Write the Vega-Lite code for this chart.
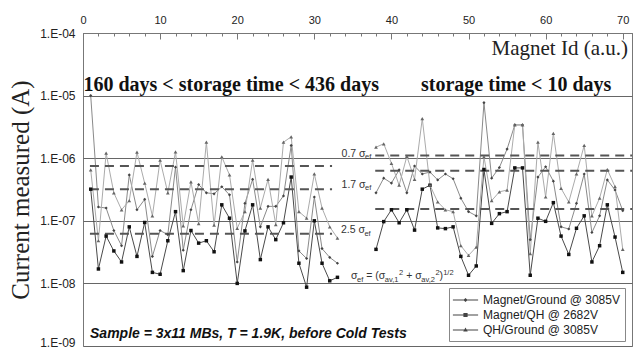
{
  "$schema": "https://vega.github.io/schema/vega-lite/v6.json",
  "width": 549,
  "height": 313,
  "autosize": {"type": "none"},
  "padding": {"left": 83, "top": 33, "right": 2, "bottom": 4},
  "background": "white",
  "config": {"view": {"stroke": "#777", "strokeWidth": 1}, "font": "Liberation Sans"},
  "resolve": {"scale": {"shape": "independent"}, "axis": {"x": "independent"}},
  "datasets": {
    "pts": [
      {"m":1,"s":"Magnet/Ground @ 3085V","g":1,"v":1e-5},{"m":2,"s":"Magnet/Ground @ 3085V","g":1,"v":1.66e-7},{"m":3,"s":"Magnet/Ground @ 3085V","g":1,"v":1.6e-7},{"m":4,"s":"Magnet/Ground @ 3085V","g":1,"v":7e-8},{"m":5,"s":"Magnet/Ground @ 3085V","g":1,"v":4e-8},{"m":6,"s":"Magnet/Ground @ 3085V","g":1,"v":5.4e-7},{"m":7,"s":"Magnet/Ground @ 3085V","g":1,"v":1.5e-7},{"m":8,"s":"Magnet/Ground @ 3085V","g":1,"v":2.2e-7},{"m":9,"s":"Magnet/Ground @ 3085V","g":1,"v":2.7e-8},{"m":10,"s":"Magnet/Ground @ 3085V","g":1,"v":7e-8},{"m":11,"s":"Magnet/Ground @ 3085V","g":1,"v":6e-8},{"m":12,"s":"Magnet/Ground @ 3085V","g":1,"v":7.2e-7},{"m":13,"s":"Magnet/Ground @ 3085V","g":1,"v":3.4e-8},{"m":14,"s":"Magnet/Ground @ 3085V","g":1,"v":1.5e-7},{"m":15,"s":"Magnet/Ground @ 3085V","g":1,"v":3.8e-7},{"m":16,"s":"Magnet/Ground @ 3085V","g":1,"v":2.8e-7},{"m":17,"s":"Magnet/Ground @ 3085V","g":1,"v":2.7e-7},{"m":18,"s":"Magnet/Ground @ 3085V","g":1,"v":3.5e-7},{"m":19,"s":"Magnet/Ground @ 3085V","g":1,"v":2.6e-7},{"m":20,"s":"Magnet/Ground @ 3085V","g":1,"v":2.2e-8},{"m":21,"s":"Magnet/Ground @ 3085V","g":1,"v":1.9e-7},{"m":22,"s":"Magnet/Ground @ 3085V","g":1,"v":4.6e-7},{"m":23,"s":"Magnet/Ground @ 3085V","g":1,"v":8e-8},{"m":24,"s":"Magnet/Ground @ 3085V","g":1,"v":1.7e-7},{"m":25,"s":"Magnet/Ground @ 3085V","g":1,"v":1.7e-7},{"m":26,"s":"Magnet/Ground @ 3085V","g":1,"v":2.5e-7},{"m":27,"s":"Magnet/Ground @ 3085V","g":1,"v":1.6e-6},{"m":28,"s":"Magnet/Ground @ 3085V","g":1,"v":3.3e-8},{"m":29,"s":"Magnet/Ground @ 3085V","g":1,"v":2.5e-8},{"m":30,"s":"Magnet/Ground @ 3085V","g":1,"v":2.4e-7},{"m":31,"s":"Magnet/Ground @ 3085V","g":1,"v":3.6e-8},{"m":32,"s":"Magnet/Ground @ 3085V","g":1,"v":2.6e-8},{"m":33,"s":"Magnet/Ground @ 3085V","g":1,"v":2.1e-8},
      {"m":38,"s":"Magnet/Ground @ 3085V","g":2,"v":2.8e-7},{"m":39,"s":"Magnet/Ground @ 3085V","g":2,"v":4.8e-7},{"m":40,"s":"Magnet/Ground @ 3085V","g":2,"v":4e-7},{"m":41,"s":"Magnet/Ground @ 3085V","g":2,"v":6.5e-7},{"m":42,"s":"Magnet/Ground @ 3085V","g":2,"v":2.8e-7},{"m":43,"s":"Magnet/Ground @ 3085V","g":2,"v":7.5e-7},{"m":44,"s":"Magnet/Ground @ 3085V","g":2,"v":5.6e-7},{"m":45,"s":"Magnet/Ground @ 3085V","g":2,"v":6e-7},{"m":46,"s":"Magnet/Ground @ 3085V","g":2,"v":4.5e-7},{"m":47,"s":"Magnet/Ground @ 3085V","g":2,"v":5.6e-7},{"m":48,"s":"Magnet/Ground @ 3085V","g":2,"v":4.7e-7},{"m":49,"s":"Magnet/Ground @ 3085V","g":2,"v":2.3e-7},{"m":50,"s":"Magnet/Ground @ 3085V","g":2,"v":1.4e-7},{"m":51,"s":"Magnet/Ground @ 3085V","g":2,"v":1.2e-7},{"m":52,"s":"Magnet/Ground @ 3085V","g":2,"v":7.7e-6},{"m":53,"s":"Magnet/Ground @ 3085V","g":2,"v":4.8e-7},{"m":54,"s":"Magnet/Ground @ 3085V","g":2,"v":7.1e-7},{"m":55,"s":"Magnet/Ground @ 3085V","g":2,"v":1.4e-6},{"m":56,"s":"Magnet/Ground @ 3085V","g":2,"v":3.4e-6},{"m":57,"s":"Magnet/Ground @ 3085V","g":2,"v":3.4e-6},{"m":58,"s":"Magnet/Ground @ 3085V","g":2,"v":5e-8},{"m":59,"s":"Magnet/Ground @ 3085V","g":2,"v":5e-7},{"m":60,"s":"Magnet/Ground @ 3085V","g":2,"v":7.3e-7},{"m":61,"s":"Magnet/Ground @ 3085V","g":2,"v":4.3e-7},{"m":62,"s":"Magnet/Ground @ 3085V","g":2,"v":8e-8},{"m":63,"s":"Magnet/Ground @ 3085V","g":2,"v":7.4e-8},{"m":64,"s":"Magnet/Ground @ 3085V","g":2,"v":1.9e-7},{"m":65,"s":"Magnet/Ground @ 3085V","g":2,"v":5.6e-7},{"m":66,"s":"Magnet/Ground @ 3085V","g":2,"v":6.5e-8},{"m":67,"s":"Magnet/Ground @ 3085V","g":2,"v":1.2e-7},{"m":68,"s":"Magnet/Ground @ 3085V","g":2,"v":4.5e-7},{"m":69,"s":"Magnet/Ground @ 3085V","g":2,"v":3.1e-7},{"m":70,"s":"Magnet/Ground @ 3085V","g":2,"v":1.45e-7},
      {"m":1,"s":"Magnet/QH @ 2682V","g":1,"v":3.2e-7},{"m":2,"s":"Magnet/QH @ 2682V","g":1,"v":1.7e-8},{"m":3,"s":"Magnet/QH @ 2682V","g":1,"v":5.7e-8},{"m":4,"s":"Magnet/QH @ 2682V","g":1,"v":3.3e-8},{"m":5,"s":"Magnet/QH @ 2682V","g":1,"v":2.2e-8},{"m":6,"s":"Magnet/QH @ 2682V","g":1,"v":8e-8},{"m":7,"s":"Magnet/QH @ 2682V","g":1,"v":2.7e-8},{"m":8,"s":"Magnet/QH @ 2682V","g":1,"v":9.4e-8},{"m":9,"s":"Magnet/QH @ 2682V","g":1,"v":1.5e-8},{"m":10,"s":"Magnet/QH @ 2682V","g":1,"v":1.4e-8},{"m":11,"s":"Magnet/QH @ 2682V","g":1,"v":4.8e-8},{"m":12,"s":"Magnet/QH @ 2682V","g":1,"v":1.4e-7},{"m":13,"s":"Magnet/QH @ 2682V","g":1,"v":1.6e-8},{"m":14,"s":"Magnet/QH @ 2682V","g":1,"v":7e-8},{"m":15,"s":"Magnet/QH @ 2682V","g":1,"v":4.4e-8},{"m":16,"s":"Magnet/QH @ 2682V","g":1,"v":4.8e-8},{"m":17,"s":"Magnet/QH @ 2682V","g":1,"v":3.2e-8},{"m":18,"s":"Magnet/QH @ 2682V","g":1,"v":1.8e-7},{"m":19,"s":"Magnet/QH @ 2682V","g":1,"v":1.1e-7},{"m":20,"s":"Magnet/QH @ 2682V","g":1,"v":1e-8},{"m":21,"s":"Magnet/QH @ 2682V","g":1,"v":6.9e-8},{"m":22,"s":"Magnet/QH @ 2682V","g":1,"v":1.8e-7},{"m":23,"s":"Magnet/QH @ 2682V","g":1,"v":2.4e-8},{"m":24,"s":"Magnet/QH @ 2682V","g":1,"v":8e-8},{"m":25,"s":"Magnet/QH @ 2682V","g":1,"v":5e-8},{"m":26,"s":"Magnet/QH @ 2682V","g":1,"v":9.3e-8},{"m":27,"s":"Magnet/QH @ 2682V","g":1,"v":5e-7},{"m":28,"s":"Magnet/QH @ 2682V","g":1,"v":2.1e-8},{"m":29,"s":"Magnet/QH @ 2682V","g":1,"v":8.7e-9},{"m":30,"s":"Magnet/QH @ 2682V","g":1,"v":1e-7},{"m":31,"s":"Magnet/QH @ 2682V","g":1,"v":2.1e-8},{"m":32,"s":"Magnet/QH @ 2682V","g":1,"v":1.1e-8},{"m":33,"s":"Magnet/QH @ 2682V","g":1,"v":1.25e-8},
      {"m":38,"s":"Magnet/QH @ 2682V","g":2,"v":3.5e-8},{"m":39,"s":"Magnet/QH @ 2682V","g":2,"v":9.7e-8},{"m":40,"s":"Magnet/QH @ 2682V","g":2,"v":1.5e-7},{"m":41,"s":"Magnet/QH @ 2682V","g":2,"v":9.3e-8},{"m":42,"s":"Magnet/QH @ 2682V","g":2,"v":1.5e-7},{"m":43,"s":"Magnet/QH @ 2682V","g":2,"v":7.1e-8},{"m":44,"s":"Magnet/QH @ 2682V","g":2,"v":3.2e-7},{"m":45,"s":"Magnet/QH @ 2682V","g":2,"v":3.7e-7},{"m":46,"s":"Magnet/QH @ 2682V","g":2,"v":7.7e-8},{"m":47,"s":"Magnet/QH @ 2682V","g":2,"v":7.5e-8},{"m":48,"s":"Magnet/QH @ 2682V","g":2,"v":8e-8},{"m":49,"s":"Magnet/QH @ 2682V","g":2,"v":2.7e-8},{"m":50,"s":"Magnet/QH @ 2682V","g":2,"v":1.35e-8},{"m":51,"s":"Magnet/QH @ 2682V","g":2,"v":1.9e-8},{"m":52,"s":"Magnet/QH @ 2682V","g":2,"v":6.6e-7},{"m":53,"s":"Magnet/QH @ 2682V","g":2,"v":9.1e-8},{"m":54,"s":"Magnet/QH @ 2682V","g":2,"v":1.3e-7},{"m":55,"s":"Magnet/QH @ 2682V","g":2,"v":1.4e-7},{"m":56,"s":"Magnet/QH @ 2682V","g":2,"v":7e-7},{"m":57,"s":"Magnet/QH @ 2682V","g":2,"v":7e-7},{"m":58,"s":"Magnet/QH @ 2682V","g":2,"v":1.35e-8},{"m":59,"s":"Magnet/QH @ 2682V","g":2,"v":1.1e-7},{"m":60,"s":"Magnet/QH @ 2682V","g":2,"v":9.8e-8},{"m":61,"s":"Magnet/QH @ 2682V","g":2,"v":1.95e-7},{"m":62,"s":"Magnet/QH @ 2682V","g":2,"v":5.7e-8},{"m":63,"s":"Magnet/QH @ 2682V","g":2,"v":2.9e-8},{"m":64,"s":"Magnet/QH @ 2682V","g":2,"v":7.6e-8},{"m":65,"s":"Magnet/QH @ 2682V","g":2,"v":1.2e-7},{"m":66,"s":"Magnet/QH @ 2682V","g":2,"v":2.2e-8},{"m":67,"s":"Magnet/QH @ 2682V","g":2,"v":4e-8},{"m":68,"s":"Magnet/QH @ 2682V","g":2,"v":1.8e-7},{"m":69,"s":"Magnet/QH @ 2682V","g":2,"v":5.5e-8},{"m":70,"s":"Magnet/QH @ 2682V","g":2,"v":1.5e-8},
      {"m":1,"s":"QH/Ground @ 3085V","g":1,"v":6.5e-7},{"m":2,"s":"QH/Ground @ 3085V","g":1,"v":4.8e-8},{"m":3,"s":"QH/Ground @ 3085V","g":1,"v":1.2e-6},{"m":4,"s":"QH/Ground @ 3085V","g":1,"v":2.8e-7},{"m":5,"s":"QH/Ground @ 3085V","g":1,"v":1.5e-7},{"m":6,"s":"QH/Ground @ 3085V","g":1,"v":2.1e-7},{"m":7,"s":"QH/Ground @ 3085V","g":1,"v":1.25e-6},{"m":8,"s":"QH/Ground @ 3085V","g":1,"v":4e-7},{"m":9,"s":"QH/Ground @ 3085V","g":1,"v":1.2e-7},{"m":10,"s":"QH/Ground @ 3085V","g":1,"v":9.3e-7},{"m":11,"s":"QH/Ground @ 3085V","g":1,"v":2.8e-7},{"m":12,"s":"QH/Ground @ 3085V","g":1,"v":1.26e-6},{"m":13,"s":"QH/Ground @ 3085V","g":1,"v":8.3e-8},{"m":14,"s":"QH/Ground @ 3085V","g":1,"v":4.2e-7},{"m":15,"s":"QH/Ground @ 3085V","g":1,"v":9e-8},{"m":16,"s":"QH/Ground @ 3085V","g":1,"v":1.8e-6},{"m":17,"s":"QH/Ground @ 3085V","g":1,"v":8.5e-8},{"m":18,"s":"QH/Ground @ 3085V","g":1,"v":1.05e-6},{"m":19,"s":"QH/Ground @ 3085V","g":1,"v":5.4e-7},{"m":20,"s":"QH/Ground @ 3085V","g":1,"v":7.6e-8},{"m":21,"s":"QH/Ground @ 3085V","g":1,"v":1.4e-7},{"m":22,"s":"QH/Ground @ 3085V","g":1,"v":9.3e-7},{"m":23,"s":"QH/Ground @ 3085V","g":1,"v":1.6e-7},{"m":24,"s":"QH/Ground @ 3085V","g":1,"v":4.6e-7},{"m":25,"s":"QH/Ground @ 3085V","g":1,"v":8.7e-8},{"m":26,"s":"QH/Ground @ 3085V","g":1,"v":1.8e-6},{"m":27,"s":"QH/Ground @ 3085V","g":1,"v":2.2e-6},{"m":28,"s":"QH/Ground @ 3085V","g":1,"v":1.4e-7},{"m":29,"s":"QH/Ground @ 3085V","g":1,"v":1.1e-7},{"m":30,"s":"QH/Ground @ 3085V","g":1,"v":5.6e-7},{"m":31,"s":"QH/Ground @ 3085V","g":1,"v":1.6e-7},{"m":32,"s":"QH/Ground @ 3085V","g":1,"v":8e-8},{"m":33,"s":"QH/Ground @ 3085V","g":1,"v":5.3e-8},
      {"m":38,"s":"QH/Ground @ 3085V","g":2,"v":1.5e-6},{"m":39,"s":"QH/Ground @ 3085V","g":2,"v":1.7e-6},{"m":40,"s":"QH/Ground @ 3085V","g":2,"v":8.3e-7},{"m":41,"s":"QH/Ground @ 3085V","g":2,"v":3.7e-7},{"m":42,"s":"QH/Ground @ 3085V","g":2,"v":1.07e-6},{"m":43,"s":"QH/Ground @ 3085V","g":2,"v":4.6e-7},{"m":44,"s":"QH/Ground @ 3085V","g":2,"v":4.3e-6},{"m":45,"s":"QH/Ground @ 3085V","g":2,"v":3.7e-7},{"m":46,"s":"QH/Ground @ 3085V","g":2,"v":2e-7},{"m":47,"s":"QH/Ground @ 3085V","g":2,"v":1.5e-7},{"m":48,"s":"QH/Ground @ 3085V","g":2,"v":1.4e-7},{"m":49,"s":"QH/Ground @ 3085V","g":2,"v":4e-8},{"m":50,"s":"QH/Ground @ 3085V","g":2,"v":2.8e-8},{"m":51,"s":"QH/Ground @ 3085V","g":2,"v":3.8e-8},{"m":52,"s":"QH/Ground @ 3085V","g":2,"v":1.05e-6},{"m":53,"s":"QH/Ground @ 3085V","g":2,"v":2.1e-7},{"m":54,"s":"QH/Ground @ 3085V","g":2,"v":2.9e-7},{"m":55,"s":"QH/Ground @ 3085V","g":2,"v":3.1e-7},{"m":56,"s":"QH/Ground @ 3085V","g":2,"v":3.4e-6},{"m":57,"s":"QH/Ground @ 3085V","g":2,"v":3.4e-6},{"m":58,"s":"QH/Ground @ 3085V","g":2,"v":3e-8},{"m":59,"s":"QH/Ground @ 3085V","g":2,"v":1.8e-6},{"m":60,"s":"QH/Ground @ 3085V","g":2,"v":2.4e-7},{"m":61,"s":"QH/Ground @ 3085V","g":2,"v":2.5e-6},{"m":62,"s":"QH/Ground @ 3085V","g":2,"v":3.3e-7},{"m":63,"s":"QH/Ground @ 3085V","g":2,"v":2e-7},{"m":64,"s":"QH/Ground @ 3085V","g":2,"v":5.6e-7},{"m":65,"s":"QH/Ground @ 3085V","g":2,"v":1.6e-6},{"m":66,"s":"QH/Ground @ 3085V","g":2,"v":1.2e-7},{"m":67,"s":"QH/Ground @ 3085V","g":2,"v":2.3e-7},{"m":68,"s":"QH/Ground @ 3085V","g":2,"v":6.6e-7},{"m":69,"s":"QH/Ground @ 3085V","g":2,"v":3.5e-7},{"m":70,"s":"QH/Ground @ 3085V","g":2,"v":3.5e-8}
    ],
    "dash": [
      {"g":1,"x0":0.9,"x1":32.3,"y":7.5e-7},{"g":1,"x0":0.9,"x1":32.3,"y":3.2e-7},{"g":1,"x0":0.9,"x1":32.3,"y":6.2e-8},
      {"g":2,"x0":37.9,"x1":71.2,"y":1.1e-6},{"g":2,"x0":37.9,"x1":71.2,"y":6.3e-7},{"g":2,"x0":37.9,"x1":71.2,"y":1.55e-7}
    ],
    "heads": [
      {"x":0.05,"y":1.184e-5,"t":"160 days < storage time < 436 days"},
      {"x":43.84,"y":1.184e-5,"t":"storage time < 10 days"}
    ],
    "xtitle": [{"x":70.68,"y":4.45e-5,"t":"Magnet Id (a.u.)"}],
    "note": [{"x":0.91,"y":1.33e-9,"t":"Sample = 3x11 MBs, T = 1.9K, before Cold Tests"}],
    "sig": [
      {"x":33.53,"y":1.057e-6,"t":"0.7 σ","r":"main"},{"x":36.58,"y":1.057e-6,"t":"ef","r":"sub"},
      {"x":33.53,"y":3.4e-7,"t":"1.7 σ","r":"main"},{"x":36.58,"y":3.4e-7,"t":"ef","r":"sub"},
      {"x":33.45,"y":6.38e-8,"t":"2.5 σ","r":"main"},{"x":36.5,"y":6.38e-8,"t":"ef","r":"sub"},
      {"x":34.76,"y":1.175e-8,"t":"σ","r":"main"},{"x":35.54,"y":1.175e-8,"t":"ef","r":"sub"},
      {"x":36.73,"y":1.175e-8,"t":"= (σ","r":"main"},{"x":39.14,"y":1.175e-8,"t":"av,1","r":"sub"},
      {"x":40.99,"y":1.175e-8,"t":"2","r":"sup"},{"x":41.91,"y":1.175e-8,"t":"+ σ","r":"main"},
      {"x":43.87,"y":1.175e-8,"t":"av,2","r":"sub"},{"x":45.71,"y":1.175e-8,"t":"2","r":"sup"},
      {"x":46.25,"y":1.175e-8,"t":")","r":"main"},{"x":46.71,"y":1.175e-8,"t":"1/2","r":"sup"}
    ]
  },
  "layer": [
    {
      "data": {"name": "pts"},
      "mark": {"type": "line", "strokeWidth": 1},
      "encoding": {
        "x": {"field": "m", "type": "quantitative",
          "scale": {"domain": [0, 71.2], "nice": false, "zero": false},
          "axis": {"orient": "top", "values": [0,10,20,30,40,50,60,70],
            "tickSize": -6, "labelPadding": 14, "labelFlush": false, "labelOverlap": false,
            "grid": false, "domainColor": "#777", "tickColor": "#777",
            "labelFont": "Liberation Sans", "labelFontSize": 11, "labelColor": "#222", "title": null}},
        "y": {"field": "v", "type": "quantitative",
          "scale": {"type": "log", "domain": [1e-9, 1e-4], "nice": false},
          "axis": {"values": [1e-9,1e-8,1e-7,1e-6,1e-5,1e-4],
            "labelExpr": "'1.E-0' + round(-log(datum.value)/LN10)",
            "labelBaseline": {"condition": {"test": "datum.value < 2e-9", "value": "alphabetic"}, "value": "middle"},
            "grid": true, "gridColor": "#666", "gridWidth": 1, "ticks": false, "domain": false,
            "labelPadding": 8, "labelFont": "Liberation Sans", "labelFontSize": 12, "labelColor": "#222",
            "title": "Current measured (A)", "titleFont": "Liberation Serif", "titleFontSize": 25,
            "titleFontWeight": "normal", "titleColor": "#222", "titlePadding": 6}},
        "color": {"field": "s", "type": "nominal",
          "scale": {"domain": ["Magnet/Ground @ 3085V","Magnet/QH @ 2682V","QH/Ground @ 3085V"], "range": ["#8a8a8a","#4a4a4a","#ababab"]},
          "legend": null},
        "detail": {"field": "g"}
      }
    },
    {
      "data": {"name": "dash"},
      "mark": {"type": "rule", "strokeDash": [9, 6], "strokeWidth": 2, "color": "#555"},
      "encoding": {
        "x": {"field": "x0", "type": "quantitative",
          "axis": {"orient": "top", "values": [2,4,6,8,12,14,16,18,22,24,26,28,32,34,36,38,42,44,46,48,52,54,56,58,62,64,66,68],
            "tickSize": -3, "labels": false, "domain": false, "grid": false, "tickColor": "#777", "title": null}},
        "x2": {"field": "x1"},
        "y": {"field": "y", "type": "quantitative"}
      }
    },
    {
      "data": {"name": "pts"},
      "mark": {"type": "point", "filled": true, "opacity": 1, "strokeWidth": 0},
      "encoding": {
        "x": {"field": "m", "type": "quantitative", "axis": null},
        "y": {"field": "v", "type": "quantitative"},
        "shape": {"field": "s", "type": "nominal",
          "scale": {"domain": ["Magnet/Ground @ 3085V","Magnet/QH @ 2682V","QH/Ground @ 3085V"], "range": ["diamond","square","triangle-up"]},
          "legend": null},
        "fill": {"field": "s", "type": "nominal",
          "scale": {"domain": ["Magnet/Ground @ 3085V","Magnet/QH @ 2682V","QH/Ground @ 3085V"], "range": ["#444","#111","#666"]},
          "legend": null},
        "size": {"field": "s", "type": "ordinal",
          "scale": {"domain": ["Magnet/Ground @ 3085V","Magnet/QH @ 2682V","QH/Ground @ 3085V"], "range": [10, 14, 14]},
          "legend": null}
      }
    },
    {
      "data": {"name": "pts"},
      "transform": [{"filter": "datum.m < 0"}],
      "mark": {"type": "point", "filled": true, "color": "#444"},
      "encoding": {
        "shape": {"field": "s", "type": "nominal",
          "scale": {"domain": ["Magnet/Ground @ 3085V","Magnet/QH @ 2682V","QH/Ground @ 3085V"],
            "range": ["M-1.8,-0.07H1.8V0.07H-1.8Z M0,-0.3L0.3,0L0,0.3L-0.3,0Z",
                      "M-1.8,-0.07H1.8V0.07H-1.8Z M-0.3,-0.3H0.3V0.3H-0.3Z",
                      "M-1.8,-0.07H1.8V0.07H-1.8Z M0,-0.36L0.32,0.22H-0.32Z"]},
          "legend": {"title": null, "orient": "none", "legendX": 366, "legendY": 255,
            "symbolSize": 196, "symbolOffset": 4.5, "labelOffset": 10.5,
            "labelFont": "Liberation Sans", "labelFontSize": 12, "labelColor": "#222",
            "padding": 5, "rowPadding": 2, "strokeColor": "#888", "fillColor": "white",
            "symbolFillColor": "#444", "symbolStrokeWidth": 0, "symbolOpacity": 1}}
      }
    },
    {
      "data": {"name": "heads"},
      "mark": {"type": "text", "font": "Liberation Serif", "fontWeight": "bold", "fontSize": 20, "align": "left", "baseline": "alphabetic", "color": "#111"},
      "encoding": {
        "x": {"field": "x", "type": "quantitative", "axis": null},
        "y": {"field": "y", "type": "quantitative"},
        "text": {"field": "t"}
      }
    },
    {
      "data": {"name": "xtitle"},
      "mark": {"type": "text", "font": "Liberation Serif", "fontSize": 21, "align": "right", "baseline": "alphabetic", "color": "#222"},
      "encoding": {
        "x": {"field": "x", "type": "quantitative", "axis": null},
        "y": {"field": "y", "type": "quantitative"},
        "text": {"field": "t"}
      }
    },
    {
      "data": {"name": "note"},
      "mark": {"type": "text", "font": "Liberation Sans", "fontWeight": "bold", "fontStyle": "italic", "fontSize": 14, "align": "left", "baseline": "alphabetic", "color": "#111"},
      "encoding": {
        "x": {"field": "x", "type": "quantitative", "axis": null},
        "y": {"field": "y", "type": "quantitative"},
        "text": {"field": "t"}
      }
    },
    {
      "data": {"name": "sig"},
      "transform": [{"filter": "datum.r === 'main'"}],
      "mark": {"type": "text", "font": "Liberation Sans", "fontSize": 10.5, "align": "left", "baseline": "alphabetic", "color": "#333"},
      "encoding": {
        "x": {"field": "x", "type": "quantitative", "axis": null},
        "y": {"field": "y", "type": "quantitative"},
        "text": {"field": "t"}
      }
    },
    {
      "data": {"name": "sig"},
      "transform": [{"filter": "datum.r === 'sub'"}],
      "mark": {"type": "text", "font": "Liberation Sans", "fontSize": 7.5, "align": "left", "baseline": "alphabetic", "dy": 2.5, "color": "#333"},
      "encoding": {
        "x": {"field": "x", "type": "quantitative", "axis": null},
        "y": {"field": "y", "type": "quantitative"},
        "text": {"field": "t"}
      }
    },
    {
      "data": {"name": "sig"},
      "transform": [{"filter": "datum.r === 'sup'"}],
      "mark": {"type": "text", "font": "Liberation Sans", "fontSize": 7.5, "align": "left", "baseline": "alphabetic", "dy": -4.5, "color": "#333"},
      "encoding": {
        "x": {"field": "x", "type": "quantitative", "axis": null},
        "y": {"field": "y", "type": "quantitative"},
        "text": {"field": "t"}
      }
    }
  ]
}
